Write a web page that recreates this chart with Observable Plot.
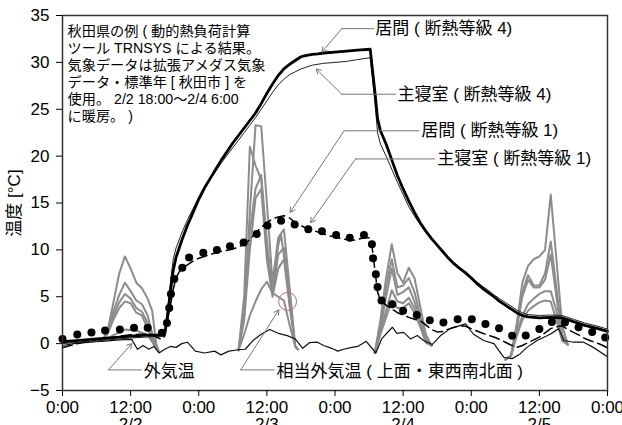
<!DOCTYPE html>
<html><head><meta charset="utf-8">
<script src="https://cdn.jsdelivr.net/npm/d3@7"></script>
<script src="https://cdn.jsdelivr.net/npm/@observablehq/plot@0.6"></script>
<style>body{margin:0;background:#fff}</style>
</head><body><div id="chart"></div>
<script>
// x = hours from 2/2 0:00 ; y = temperature [°C]
const xTicks = [0, 12, 24, 36, 48, 60, 72, 84, 96];
const xTickLabels = ["0:00", "12:00\n2/2", "0:00", "12:00\n2/3", "0:00", "12:00\n2/4", "0:00", "12:00\n2/5", "0:00"];
const yTicks = [-5, 0, 5, 10, 15, 20, 25, 30, 35];

// 居間 (断熱等級4)
const livingG4 = [[0,0.2],[3,0.35],[6,0.5],[9,0.65],[12,0.8],[15,0.9],[17.5,0.9],[18,1.0],[18.5,3.0],[19,5.5],[19.5,7.8],[20,9.2],[21,11.0],[22,12.6],[23,14.0],[24,15.4],[25,16.6],[26,17.6],[27,18.6],[28,19.6],[29,20.5],[30,21.4],[31,22.2],[32,23.0],[33,23.8],[34,24.6],[35,25.6],[36,26.7],[37,27.7],[38,28.6],[39,29.3],[40,29.8],[41,30.2],[42,30.6],[43,30.75],[44,30.85],[45,30.9],[46,31.0],[48,31.1],[50,31.2],[52,31.3],[54.2,31.4],[55,27.0],[55.5,24.0],[56,22.7],[57,21.3],[58,19.6],[59,17.9],[60,16.5],[61,15.2],[62,14.0],[63,12.9],[64,12.0],[65,11.2],[66,10.5],[67,9.8],[68,9.1],[69,8.5],[70,8.0],[71,7.55],[72,7.0],[73,6.4],[74,5.9],[75,5.45],[76,5.0],[77,4.5],[78,4.1],[79,3.7],[80,3.3],[81,3.0],[82,2.85],[84,2.75],[86,2.8],[88,2.75],[90,2.35],[92,1.95],[94,1.65],[96,1.3]];
// 主寝室 (断熱等級4)
const bedroomG4 = [[0,0.0],[6,0.3],[12,0.6],[17.5,0.8],[18,0.9],[18.5,3.5],[19,6.5],[19.5,9.0],[20,10.2],[21,11.8],[22,13.2],[23,14.4],[24,15.6],[25,16.6],[26,17.5],[27,18.4],[28,19.3],[29,20.1],[30,20.9],[31,21.7],[32,22.5],[33,23.3],[34,24.1],[35,25.0],[36,25.9],[37,26.8],[38,27.6],[39,28.2],[40,28.7],[41,29.0],[42,29.3],[43,29.5],[44,29.7],[46,29.9],[48,30.0],[50,30.1],[52,30.3],[54.2,30.5],[55,26.0],[55.5,22.5],[56,21.3],[57,20.0],[58,18.6],[59,17.2],[60,15.9],[61,14.6],[62,13.6],[63,12.7],[64,11.9],[65,11.2],[66,10.5],[67,9.8],[68,9.2],[69,8.6],[70,8.1],[71,7.6],[72,7.1],[73,6.6],[74,6.1],[75,5.7],[76,5.2],[77,4.8],[78,4.4],[79,4.0],[80,3.6],[81,3.3],[82,3.1],[84,3.0],[86,3.05],[88,3.0],[90,2.6],[92,2.2],[94,1.9],[96,1.55]];
// dashed (断熱等級1)
const dashedG1 = [[0,-0.45],[2,-0.1],[4,0.2],[6,0.4],[8,0.6],[10,0.8],[12,0.95],[14,1.0],[15.5,1.0],[16.5,0.7],[17.5,0.45],[18,0.8],[18.5,2.5],[19,4.0],[19.5,5.8],[20,7.0],[20.5,7.6],[21,8.0],[22,8.4],[23,8.8],[24,9.1],[25,9.3],[26,9.5],[27,9.7],[28,9.85],[29,9.95],[30,10.1],[31,10.3],[32,10.6],[33,11.1],[34,11.8],[35,12.4],[36,12.9],[37,13.3],[38,13.5],[39,13.65],[40,13.4],[41,12.9],[42,12.6],[43,12.3],[44,12.1],[45,11.9],[46,11.7],[47,11.5],[48,11.4],[49,11.2],[50,11.1],[51,11.0],[52,11.1],[53,11.3],[54,11.3],[54.5,10.5],[55,8.0],[55.5,5.5],[56,4.6],[57,4.1],[58,3.7],[59,3.3],[60,3.05],[61,2.8],[62,2.6],[63,2.45],[64,2.0],[65,1.5],[66,1.25],[67,1.3],[68,1.55],[69,1.75],[70,1.9],[71,1.85],[72,1.6],[73,1.35],[74,1.1],[75,0.9],[76,0.7],[77,0.45],[78,0.15],[79,-0.15],[80,-0.4],[81,-0.2],[82,0.1],[83,0.4],[84,0.7],[85,1.15],[86,1.6],[87,1.8],[88,1.9],[89,1.5],[90,1.2],[91,0.9],[92,0.55],[93,0.3],[94,0.1],[95,-0.15],[96,-0.45]];
// dotted markers (断熱等級1)
const dotsG1 = [[0,0.5],[2.6,0.97],[5.1,1.2],[7.5,1.4],[10.1,1.5],[12.6,1.7],[15.0,1.7],[17.5,1.15],[18.4,2.2],[18.8,3.8],[19.1,5.3],[19.7,6.9],[21.1,8.1],[22.3,9.2],[24.8,9.7],[27.2,10.0],[29.5,10.4],[31.9,10.8],[34.2,11.7],[36.1,12.6],[38.5,13.1],[40.9,12.7],[43.3,12.2],[45.7,12.0],[48.2,11.6],[50.6,11.3],[53.1,11.6],[54.5,10.6],[54.7,9.1],[55.2,7.4],[55.5,6.05],[56.2,4.6],[58.1,4.2],[60.0,3.5],[62.4,3.05],[64.7,2.5],[67.1,2.25],[69.6,2.6],[72.1,2.6],[74.5,2.1],[76.9,1.65],[79.2,0.85],[81.6,0.86],[84.0,1.55],[86.2,2.3],[88.5,2.25],[90.9,1.75],[93.3,1.25],[95.6,0.65]];
// 外気温
const outdoor = [[0,-0.2],[2,0],[4,0.1],[6,0.2],[8,0.3],[10,0.4],[12.2,0.45],[13.2,-0.6],[14.2,-0.2],[15.2,-0.6],[16.1,-0.3],[17,-1.0],[18,-0.6],[19,-0.3],[20,-0.4],[21,0.0],[22,0.15],[23.4,-0.8],[25,-1.0],[26.8,-0.8],[27.9,-1.2],[29.3,-0.8],[31,-0.65],[32.2,-0.6],[33.5,0.3],[35,1.0],[36.5,1.5],[38,1.1],[39.6,0.85],[41,0.5],[42.3,-0.5],[43.5,0.1],[44.9,0.15],[46,-0.2],[47.4,-0.5],[48.5,-0.8],[49.5,-0.6],[51,-0.4],[52,-0.3],[53.5,0.25],[55.2,-1.0],[56.2,0.5],[58.1,1.75],[58.9,1.1],[60.1,1.2],[61.3,0.5],[62.5,0.86],[63.6,0.33],[65.1,-0.1],[66.6,0.86],[68.3,1.6],[71.0,2.1],[72.4,1.0],[74.2,0.33],[76,0.0],[77.7,-1.45],[79.2,-1.6],[80.6,-1.1],[81.8,-0.4],[83.6,0.33],[85.9,1.0],[87.4,1.6],[88.3,0.33],[90,0.15],[91.8,0.15],[93.5,-0.4],[96,-1.4]];
// 相当外気温 (5 surfaces), daytime segments
const solA = [
  [[7,0.3],[8,1.5],[9,4.5],[10,7.5],[11,9.3],[12,8.0],[13,6.5],[14,5.9],[15,4.8],[15.8,3.5],[16.5,0.0],[17,-0.9]],
  [[31,-0.7],[32,3],[33,14],[34,23.3],[35,23.2],[36,15],[37,6.5],[38,11.3],[39,12.2],[40,6],[41,-0.3],[41.5,-0.6]],
  [[55,-1.0],[56,2.5],[57,7.0],[58,10.6],[59,7.5],[60,6.5],[61,8.1],[62,7.0],[63,4.0],[64,1.0],[65,-0.2]],
  [[78,-1.7],[79,-1.3],[80,2],[81,6.5],[82,8.3],[83,9.0],[84,9.3],[85,10.0],[86,15.9],[87,9],[88,2],[89,-0.1]]
];
const solB = [
  [[7,0.3],[8,1.3],[9,3.5],[10,5.2],[11,6.5],[12,5.6],[13,4.6],[14,4.2],[15,3.0],[16,0.6],[17,-0.9]],
  [[31,-0.7],[32,5],[33,21.0],[34,19],[35,17.5],[36,10],[37,5.5],[38,10.5],[38.5,11.6],[40,5],[41,-0.3],[41.5,-0.6]],
  [[55,-1.0],[56,2],[57,6],[58,9.0],[59,6.0],[60,6.2],[61,7.0],[62,5.5],[63,3],[64,0.5],[65,-0.2]],
  [[78,-1.7],[79,-1.3],[80,2],[81,5.5],[82,7.3],[83,6.2],[84,6.2],[85,7.5],[86,10.9],[87,6],[88,1],[89,-0.1]]
];
const solC = [
  [[7,0.3],[8,1.2],[9,3.0],[10,4.4],[11,5.3],[12,4.8],[13,3.8],[14,3.4],[15,2.2],[16,0.2],[17,-0.9]],
  [[31,-0.7],[32,3],[33,12],[34,16.5],[35,18.0],[36,11],[37,5.3],[38,9.5],[39,10.2],[40,4.5],[41,-0.3],[41.5,-0.6]],
  [[55,-1.0],[56,1.5],[57,5],[58,8.0],[59,5.2],[60,5.5],[61,6.0],[62,4.5],[63,2.5],[64,0.3],[65,-0.2]],
  [[78,-1.7],[79,-1.3],[80,1.5],[81,5.0],[82,6.8],[83,6.0],[84,6.0],[85,6.8],[86,9.5],[87,5],[88,0.8],[89,-0.1]]
];
const solD = [
  [[7,0.3],[8,1.1],[9,2.6],[10,3.8],[11,4.5],[12,4.3],[13,3.3],[14,3.0],[15,1.6],[16,0.0],[17,-0.9]],
  [[31,-0.7],[32,2.5],[33,10],[34,15.5],[35,16.5],[36,9],[37,5],[38,8],[39,9],[40,4],[41,-0.3],[41.5,-0.6]],
  [[55,-1.0],[56,1.2],[57,3.5],[58,5.7],[59,4.5],[60,4.3],[61,4.9],[62,3.8],[63,2.0],[64,0.2],[65,-0.2]],
  [[78,-1.7],[79,-1.3],[80,1],[81,3],[82,4.2],[83,4.8],[84,5.3],[85,5.6],[86,5.6],[87,3.5],[88,0.5],[89,-0.1]]
];
const solE = [
  [[7,0.3],[9,0.9],[11,1.5],[13,1.4],[15,0.9],[17,-0.9]],
  [[31,-0.7],[32,1],[33,3],[34,4.5],[35,5.8],[36,6.6],[37,5.4],[38,5.0],[39,4.6],[40,2],[41,-0.3],[41.5,-0.6]],
  [[55,-1.0],[56,1.0],[57,2.8],[58,4.6],[59,3.8],[60,3.8],[61,4.3],[62,3.3],[63,1.8],[64,0.1],[65,-0.2]],
  [[78,-1.7],[79,-1.3],[80,0.8],[81,2.5],[82,3.5],[83,4.0],[84,4.4],[85,4.6],[86,4.5],[87,2.5],[88,0.3],[89,-0.1]]
];

// annotation texts and leader lines (data coordinates)
const noteText = "秋田県の例 ( 動的熱負荷計算\nツール TRNSYS による結果。\n気象データは拡張アメダス気象\nデータ・標準年 [ 秋田市 ] を\n使用。 2/2 18:00〜2/4 6:00\nに暖房。 )";
const labels = [
  {h:55.1, v:33.6, text:"居間 ( 断熱等級 4)"},
  {h:59.0, v:26.6, text:"主寝室 ( 断熱等級 4)"},
  {h:63.2, v:22.7, text:"居間 ( 断熱等級 1)"},
  {h:66.0, v:19.75, text:"主寝室 ( 断熱等級 1)"},
  {h:14.3, v:-2.95, text:"外気温"},
  {h:37.7, v:-2.95, text:"相当外気温 ( 上面・東西南北面 )"}
];
const leaders = [
  [[54.8,33.6],[49.2,33.6],[45.7,31.1]],
  [[58.7,26.6],[49.2,26.6],[44.7,29.3]],
  [[62.8,22.7],[49.6,22.7],[40.1,14.0]],
  [[65.6,19.7],[51.6,19.7],[43.7,12.9]],
  [[13.9,-2.8],[8.1,-2.8],[12.2,0.0]],
  [[37.3,-2.8],[31.4,-2.8],[38.1,3.6]]
];
const marker = [{h:39.65, v:4.5}];

const rows = a => a.map(([h, v]) => ({h, v}));
const solRows = [];
[solA, solB, solC, solD, solE].forEach((s, i) => s.forEach((seg, j) =>
  seg.forEach(([h, v]) => solRows.push({h, v, k: i + "-" + j}))));
const leaderH = leaders.flatMap((p, i) => p.slice(0, 2).map(([h, v]) => ({h, v, k: i})));
const leaderA = leaders.map(p => ({x1: p[1][0], y1: p[1][1], x2: p[2][0], y2: p[2][1]}));

const font = "'Liberation Sans', Arial, 'Noto Sans CJK JP', sans-serif";
const chart = Plot.plot({
  width: 622, height: 425,
  marginLeft: 62, marginRight: 15, marginTop: 15, marginBottom: 35,
  style: {fontFamily: font, background: "#fff", color: "#000", overflow: "visible"},
  x: {domain: [0, 96]},
  y: {domain: [-5, 35]},
  marks: [
    Plot.line(solRows, {x: "h", y: "v", z: "k", stroke: "#8c8c8c", strokeWidth: 2}),
    Plot.line(rows(outdoor), {x: "h", y: "v", stroke: "#111", strokeWidth: 1.2}),
    Plot.line(rows(dashedG1), {x: "h", y: "v", stroke: "#000", strokeWidth: 1.5, strokeDasharray: "10,5"}),
    Plot.dot(rows(dotsG1), {x: "h", y: "v", r: 4, fill: "#000", stroke: "none"}),
    Plot.line(rows(bedroomG4), {x: "h", y: "v", stroke: "#222", strokeWidth: 1}),
    Plot.line(rows(livingG4), {x: "h", y: "v", stroke: "#000", strokeWidth: 2.8}),
    Plot.dot(marker, {x: "h", y: "v", r: 9, stroke: "#b07070", strokeWidth: 1, fill: "none", ariaLabel: "ellipse-marker"}),
    Plot.line(leaderH, {x: "h", y: "v", z: "k", stroke: "#777", strokeWidth: 1}),
    Plot.arrow(leaderA, {x1: "x1", y1: "y1", x2: "x2", y2: "y2", stroke: "#777", strokeWidth: 1, headLength: 8}),
    Plot.text(labels, {x: "h", y: "v", text: "text", textAnchor: "start", fontSize: 17, fill: "#000"}),
    Plot.text([noteText], {frameAnchor: "top-left", dx: 5, dy: 8, text: d => d, textAnchor: "start", lineAnchor: "top", fontSize: 14.2, lineHeight: 1.2, fill: "#000"}),
    Plot.frame({stroke: "#333", strokeWidth: 1.5}),
    Plot.axisY({ticks: yTicks, tickSize: 6, tickPadding: 7, fontSize: 17, label: "温度 [°C]", labelAnchor: "center", labelOffset: 55, labelArrow: "none"}),
    Plot.axisX({ticks: xTicks, tickFormat: d => xTickLabels[xTicks.indexOf(d)], tickSize: 6, tickPadding: 4, fontSize: 17, label: null})
  ]
});
// turn the circular marker into an ellipse
d3.select(chart).selectAll("g[aria-label='ellipse-marker'] circle").each(function() {
  const c = d3.select(this);
  const p = this.parentNode;
  d3.select(p).append("ellipse").attr("cx", c.attr("cx")).attr("cy", c.attr("cy")).attr("rx", 10).attr("ry", 8);
  c.remove();
});
document.getElementById("chart").appendChild(chart);
</script>
</body></html>
